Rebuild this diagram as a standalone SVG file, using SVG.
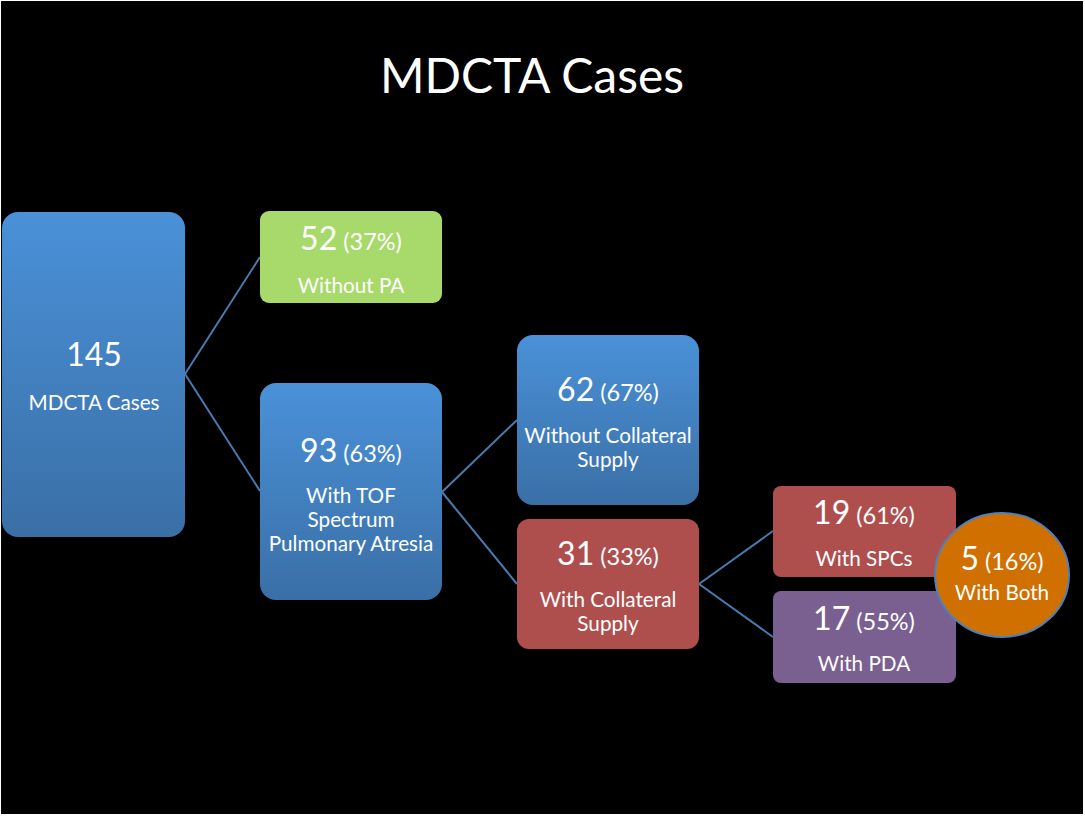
<svg xmlns="http://www.w3.org/2000/svg" width="1085" height="816" viewBox="0 0 1085 816">
<defs>
<linearGradient id="gBlue" x1="0" y1="0" x2="0" y2="1"><stop offset="0" stop-color="#4a91d8"/><stop offset="1" stop-color="#3a6fa6"/></linearGradient>
<style>
.t{font-family:Lato,"Open Sans","Liberation Sans",sans-serif;fill:#ffffff;text-anchor:middle}
.big{font-size:32px}
.pc{font-size:23.5px}
.lb{font-size:20.7px}
.conn line{stroke:#4a7bb0;stroke-width:2;fill:none}
</style>
</defs>
<rect x="0" y="0" width="1085" height="816" fill="#ffffff"/>
<rect x="1" y="1" width="1082" height="813" fill="#000000"/>
<text class="t" x="532" y="93" style="font-size:48px">MDCTA Cases</text>
<g id="connectors" class="conn">
<line x1="185" y1="374" x2="260" y2="257"/>
<line x1="185" y1="374" x2="260" y2="491"/>
<line x1="442" y1="492" x2="517" y2="420"/>
<line x1="442" y1="492" x2="517" y2="584"/>
<line x1="699" y1="584" x2="773" y2="531"/>
<line x1="699" y1="584" x2="773" y2="637"/>
</g>
<g id="n145">
<rect x="2" y="212" width="183" height="325" rx="16" fill="url(#gBlue)"/>
<text class="t big" x="94" y="366">145</text>
<text class="t lb" x="94" y="410">MDCTA Cases</text>
</g>
<g id="n52">
<rect x="260" y="211" width="182" height="92" rx="9" fill="#a8d96b"/>
<text class="t" x="351" y="250"><tspan class="big">52</tspan><tspan class="pc"> (37%)</tspan></text>
<text class="t lb" x="351" y="293">Without PA</text>
</g>
<g id="n93">
<rect x="260" y="383" width="182" height="217" rx="16" fill="url(#gBlue)"/>
<text class="t" x="351" y="462"><tspan class="big">93</tspan><tspan class="pc"> (63%)</tspan></text>
<text class="t lb" x="351" y="503">With TOF</text>
<text class="t lb" x="351" y="527">Spectrum</text>
<text class="t lb" x="351" y="551">Pulmonary Atresia</text>
</g>
<g id="n62">
<rect x="517" y="335" width="182" height="170" rx="16" fill="url(#gBlue)"/>
<text class="t" x="608" y="401"><tspan class="big">62</tspan><tspan class="pc"> (67%)</tspan></text>
<text class="t lb" x="608" y="443">Without Collateral</text>
<text class="t lb" x="608" y="467">Supply</text>
</g>
<g id="n31">
<rect x="517" y="519" width="182" height="130" rx="12" fill="#ae4f4e"/>
<text class="t" x="608" y="565"><tspan class="big">31</tspan><tspan class="pc"> (33%)</tspan></text>
<text class="t lb" x="608" y="607">With Collateral</text>
<text class="t lb" x="608" y="631">Supply</text>
</g>
<g id="n19">
<rect x="773" y="486" width="183" height="91" rx="8" fill="#ae4f4e"/>
<text class="t" x="864" y="524"><tspan class="big">19</tspan><tspan class="pc"> (61%)</tspan></text>
<text class="t lb" x="864" y="566">With SPCs</text>
</g>
<g id="n17">
<rect x="773" y="591" width="183" height="92" rx="8" fill="#7a6090"/>
<text class="t" x="864" y="630"><tspan class="big">17</tspan><tspan class="pc"> (55%)</tspan></text>
<text class="t lb" x="864" y="671">With PDA</text>
</g>
<g id="n5">
<ellipse cx="1002" cy="575" rx="67" ry="62" fill="#d07000" stroke="#4f81bd" stroke-width="2"/>
<text class="t" x="1002" y="570"><tspan class="big">5</tspan><tspan class="pc"> (16%)</tspan></text>
<text class="t lb" x="1002" y="600">With Both</text>
</g>
</svg>
